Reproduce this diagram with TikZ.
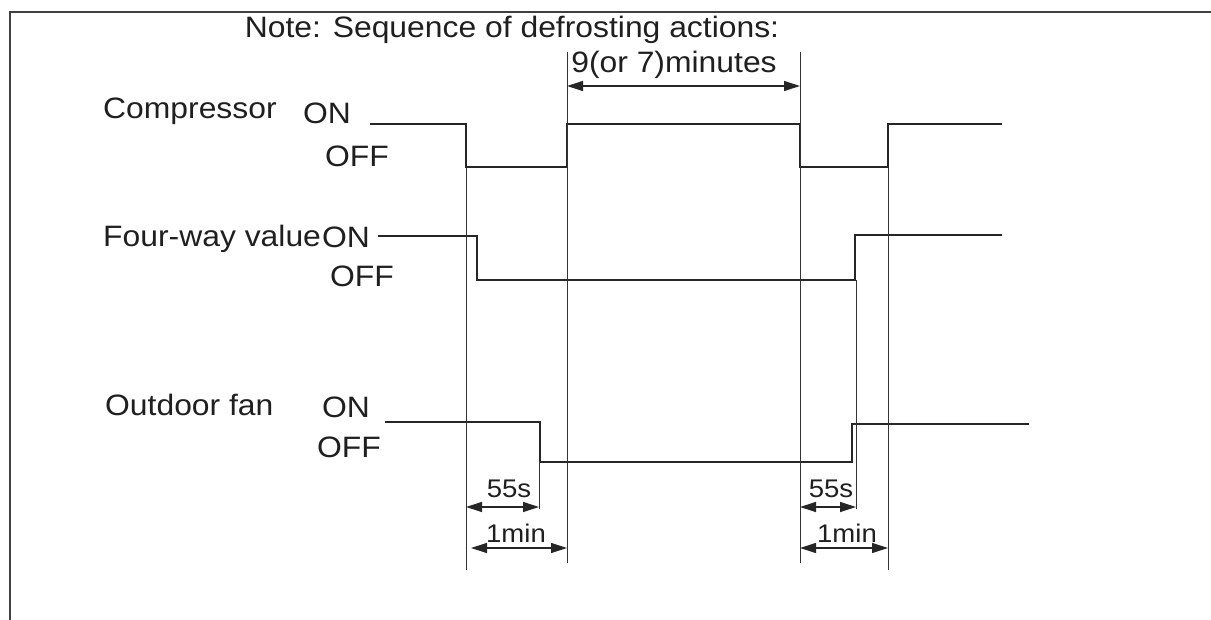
\documentclass[tikz,border=0pt]{standalone}
\usepackage{fontspec}
\setmainfont{Liberation Sans}[FakeStretch=1.08]
\usetikzlibrary{arrows.meta}
\begin{document}
\begin{tikzpicture}[x=1bp,y=-1bp,
  lbl/.style={anchor=base west,inner sep=0pt,font=\fontsize{29.5bp}{32bp}\selectfont,text=black!88},
  small/.style={anchor=base,inner sep=0pt,font=\fontsize{25.5bp}{28bp}\selectfont,text=black!88},
  signal/.style={line width=2.6bp,black!85,line join=miter},
  guide/.style={line width=1bp,black!80},
  dimline/.style={line width=1.2bp,black!85,{Triangle[length=16bp,width=10bp]}-{Triangle[length=16bp,width=10bp]}},
  frame/.style={line width=1.4bp,black!75}]
\useasboundingbox (0,0) rectangle (1211,620);
% frame
\coordinate (fTR) at (1211,12);
\coordinate (fTL) at (10,12);
\coordinate (fBL) at (10,620);
\draw[frame] (fTR) -- (fTL) -- (fBL);

% texts
\node[lbl,anchor=base] (note) at (512,38) {Note: Sequence of defrosting actions:};
\node[lbl,anchor=base] (nine) at (674,73) {9(or 7)minutes};
\node[lbl] (comp) at (103,119) {Compressor};
\node[lbl] (compon) at (303,124) {ON};
\node[lbl] (compoff) at (325,167) {OFF};
\node[lbl] (four) at (103,247) {Four-way value};
\node[lbl] (fouron) at (322,248) {ON};
\node[lbl] (fouroff) at (330,287) {OFF};
\node[lbl] (fan) at (105,415) {Outdoor fan};
\node[lbl] (fanon) at (322,417) {ON};
\node[lbl] (fanoff) at (317,457) {OFF};

% signals
\draw[signal] (370,124) -- (466,124) -- (466,167) -- (567,167) -- (567,124)
  -- (800,124) -- (800,167) -- (888,167) -- (888,124) -- (1002,124);
\draw[signal] (378,236) -- (477,236) -- (477,280) -- (855,280) -- (855,235) -- (1002,235);
\draw[signal] (385,422) -- (540,422) -- (540,462) -- (852,462) -- (852,424) -- (1029,424);

% guide lines
\coordinate (gA1) at (466,168); \coordinate (gA2) at (466,570);
\coordinate (gB1) at (567,52);  \coordinate (gB2) at (567,563);
\coordinate (gC1) at (800,52);  \coordinate (gC2) at (800,563);
\coordinate (gD1) at (888,168); \coordinate (gD2) at (888,570);
\coordinate (gE1) at (539,462); \coordinate (gE2) at (539,509);
\coordinate (gF1) at (856,280); \coordinate (gF2) at (856,509);
\draw[guide] (gA1) -- (gA2);
\draw[guide] (gB1) -- (gB2);
\draw[guide] (gC1) -- (gC2);
\draw[guide] (gD1) -- (gD2);
\draw[guide] (gE1) -- (gE2);
\draw[guide] (gF1) -- (gF2);

% dimensions
\coordinate (d9a) at (567,86); \coordinate (d9b) at (800,86);
\draw[dimline] (d9a) -- (d9b);
\coordinate (d1a) at (466,507); \coordinate (d1b) at (539,507);
\draw[dimline] (d1a) -- (d1b);
\node[small] (s55a) at (509,497) {55s};
\coordinate (d2a) at (471,548); \coordinate (d2b) at (567,548);
\draw[dimline] (d2a) -- (d2b);
\node[small] (m1a) at (516,542) {1min};
\coordinate (d3a) at (800,507); \coordinate (d3b) at (856,507);
\draw[dimline] (d3a) -- (d3b);
\node[small] (s55b) at (831,497) {55s};
\coordinate (d4a) at (800,548); \coordinate (d4b) at (888,548);
\draw[dimline] (d4a) -- (d4b);
\node[small] (m1b) at (847,542) {1min};
\end{tikzpicture}
\end{document}
